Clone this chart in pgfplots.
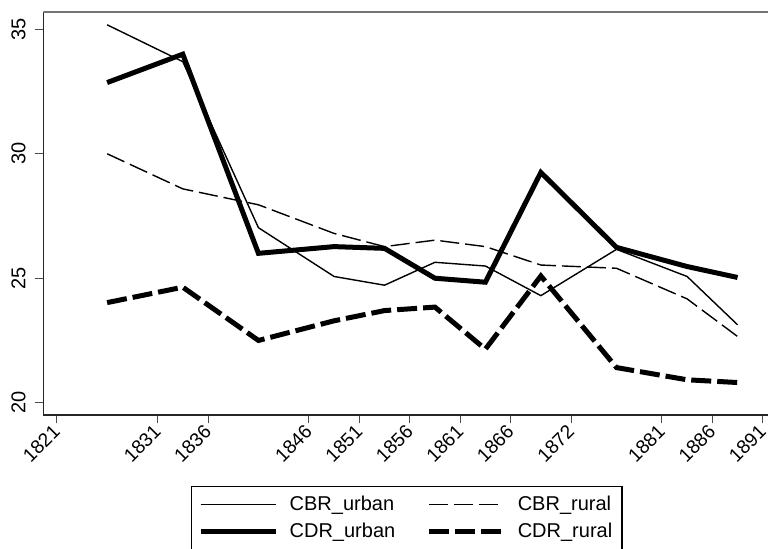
\documentclass[border=0pt]{standalone}
\usepackage{fontspec}
\setmainfont{Liberation Sans}
\usepackage{pgfplots}
\pgfplotsset{compat=1.18}
\begin{document}
\begin{tikzpicture}
\begin{axis}[
  at={(0,0)}, anchor=south west,
  scale only axis, width=362.35pt, height=201.5pt,
  xmin=1819.67, xmax=1891.52, ymin=19.506, ymax=35.695,
  axis x line=bottom, axis y line=left,
  axis line style={-, line width=0.6pt, black!85},
  tick align=outside, major tick length=4.2pt,
  tick style={black!70, line width=0.5pt},
  xtick={1821,1831,1836,1846,1851,1856,1861,1866,1872,1881,1886,1891},
  xticklabels={1821,1831,1836,1846,1851,1856,1861,1866,1872,1881,1886,1891},
  ytick={20,25,30,35}, yticklabels={20,25,30,35},
  yticklabel style={font=\fontsize{10}{12}\selectfont, rotate=90, anchor=south, inner sep=0pt, yshift=4.5pt},
  xticklabel style={font=\fontsize{9.6}{11}\selectfont, anchor=east, rotate=45, inner sep=0pt},
  xticklabel shift=2.4pt,
  legend columns=2,
  legend cell align=left,
  legend style={at={(0.2035,-0.1762)}, anchor=north west, draw=black, line width=0.6pt,
    font=\fontsize{10}{12}\selectfont, inner xsep=3.4pt, inner ysep=3pt,
    nodes={inner sep=1.5pt}, row sep=2pt, column sep=4.25pt,
    /tikz/every even column/.append style={column sep=14pt}},
  legend image code/.code={\draw[#1] (0pt,0pt) -- (37.5pt,0pt);},
]
\addplot[black, line width=0.7pt] coordinates {
(1826,35.18) (1833.5,33.7) (1841,27.03) (1848.5,25.07) (1853.5,24.72) (1858.5,25.64)
(1863.5,25.49) (1869,24.30) (1876.5,26.16) (1883.5,25.07) (1888.5,23.13)};
\addlegendentry{CBR\_urban}
\addplot[black, line width=0.7pt, dash pattern=on 9.5pt off 3pt] coordinates {
(1826,30.0) (1833.5,28.59) (1841,27.95) (1848.5,26.8) (1853.5,26.27) (1858.5,26.53)
(1863.5,26.27) (1869,25.53) (1876.5,25.4) (1883.5,24.17) (1888.5,22.66)};
\addlegendentry{CBR\_rural}
\addplot[black, line width=2.5pt] coordinates {
(1826,32.86) (1833.5,34.0) (1841,26.0) (1848.5,26.27) (1853.5,26.2) (1858.5,25.0)
(1863.5,24.84) (1869,29.25) (1876.5,26.24) (1883.5,25.47) (1888.5,25.03)};
\addlegendentry{CDR\_urban}
\addplot[black, line width=2.5pt, dash pattern=on 10pt off 3pt] coordinates {
(1826,24.02) (1833.5,24.64) (1841,22.5) (1848.5,23.29) (1853.5,23.7) (1858.5,23.84)
(1863.5,22.15) (1869,25.09) (1876.5,21.41) (1883.5,20.92) (1888.5,20.81)};
\addlegendentry{CDR\_rural}
\draw[black!55, line width=0.6pt] (rel axis cs:0,1) -- (rel axis cs:1,1);
\end{axis}
\pgfresetboundingbox
\useasboundingbox (-21.65pt,-67pt) rectangle (362.35pt,207.5pt);
\end{tikzpicture}
\end{document}
